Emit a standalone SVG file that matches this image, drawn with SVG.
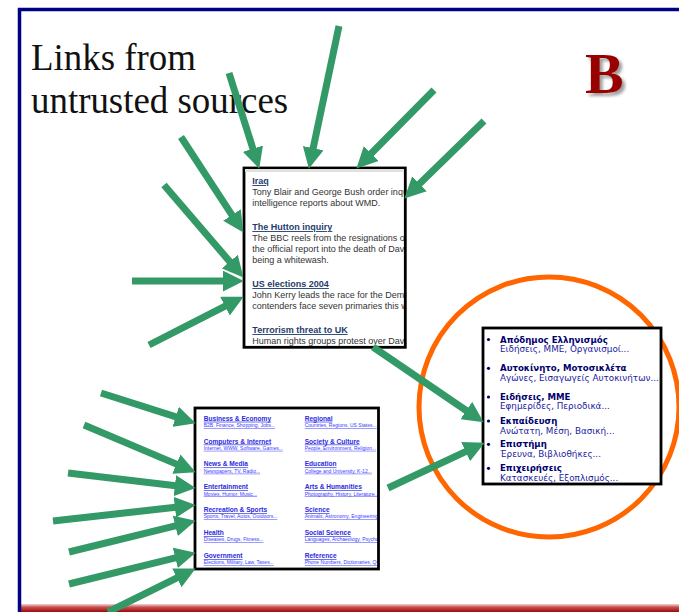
<svg xmlns="http://www.w3.org/2000/svg" width="679" height="612" viewBox="0 0 679 612">
  <style>
    .title { font-family: "Liberation Serif", "Times New Roman", serif; font-size: 36.9px; fill: #111; }
    .news-h { font-family: "Liberation Sans", Arial, sans-serif; font-size: 9px; font-weight: bold; fill: #1f3c6e; text-decoration: underline; }
    .news-b { font-family: "Liberation Sans", Arial, sans-serif; font-size: 9px; fill: #333; }
    .dir-h { font-family: "Liberation Sans", Arial, sans-serif; font-size: 6.6px; font-weight: bold; fill: #2a2ae0; text-decoration: underline; }
    .dir-s { font-family: "Liberation Sans", Arial, sans-serif; font-size: 5px; fill: #3a3aff; text-decoration: underline; }
    .gr-h { font-family: "DejaVu Sans", Verdana, sans-serif; font-size: 8.6px; font-weight: bold; fill: #00006e; }
    .gr-s { font-family: "DejaVu Sans", Verdana, sans-serif; font-size: 8.8px; fill: #1c1ca0; }
    .box { fill: #fff; stroke: #000; stroke-width: 2.8; }
    .arrow { stroke: #339966; stroke-width: 7; fill: none; marker-end: url(#head); }
  </style>
  <defs>
    <marker id="head" markerUnits="userSpaceOnUse" viewBox="0 0 20 20" markerWidth="21" markerHeight="21" refX="5" refY="10" orient="auto">
      <path d="M0,0 L20,10 L0,20 z" fill="#339966"/>
    </marker>
    <filter id="shadow" x="-20%" y="-20%" width="150%" height="150%">
      <feDropShadow dx="3" dy="3" stdDeviation="1.5" flood-color="#777" flood-opacity="0.7"/>
    </filter>
    <linearGradient id="band" x1="0" y1="0" x2="0" y2="1">
      <stop offset="0" stop-color="#f4d6d6"/>
      <stop offset="0.4" stop-color="#c85050"/>
      <stop offset="1" stop-color="#9a0a0a"/>
    </linearGradient>
    <clipPath id="clipNews"><rect x="245" y="169" width="159" height="177"/></clipPath>
    <clipPath id="clipDir"><rect x="196" y="409" width="181" height="159"/></clipPath>
    <clipPath id="clipGr"><rect x="484" y="329" width="176" height="154"/></clipPath>
  </defs>

  <rect width="679" height="612" fill="#fff"/>

  <!-- bottom band -->
  <rect x="21" y="604" width="658" height="8" fill="url(#band)"/>

  <!-- slide frame -->
  <path d="M19.5,612 V9.5 H679" fill="none" stroke="#000080" stroke-width="3.5"/>

  <!-- heading -->
  <g id="heading">
    <text class="title" x="31" y="70">Links from</text>
    <text class="title" x="31" y="113">untrusted sources</text>
  </g>
  <g id="label-b">
    <text x="585" y="93" font-family="Liberation Serif, Times New Roman, serif" font-size="58" font-weight="bold" fill="#990000" filter="url(#shadow)">B</text>
  </g>

  <!-- news page -->
  <g id="news-page">
    <rect class="box" x="244" y="168" width="161.3" height="179.3"/>
    <g clip-path="url(#clipNews)">
      <rect x="245" y="169" width="159" height="3" fill="#e0e0dc"/>
      <text class="news-h" x="252.3" y="184">Iraq</text>
      <text class="news-b" x="252.3" y="194.5">Tony Blair and George Bush order inquiry into</text>
      <text class="news-b" x="252.3" y="205.8">intelligence reports about WMD.</text>
      <text class="news-h" x="252.3" y="230">The Hutton inquiry</text>
      <text class="news-b" x="252.3" y="240.5">The BBC reels from the resignations of its chiefs</text>
      <text class="news-b" x="252.3" y="251.5">the official report into the death of David Kelly</text>
      <text class="news-b" x="252.3" y="262.8">being a whitewash.</text>
      <text class="news-h" x="252.3" y="287">US elections 2004</text>
      <text class="news-b" x="252.3" y="297.8">John Kerry leads the race for the Democratic</text>
      <text class="news-b" x="252.3" y="309">contenders face seven primaries this week</text>
      <text class="news-h" x="252.3" y="333">Terrorism threat to UK</text>
      <text class="news-b" x="252.3" y="344.3">Human rights groups protest over David Blunkett</text>
    </g>
  </g>

  <!-- directory page -->
  <g id="directory-page">
    <rect class="box" x="195" y="408" width="183.5" height="161"/>
    <g clip-path="url(#clipDir)">
      <text class="dir-h" x="203.7" y="420.7">Business &amp; Economy</text>
      <text class="dir-s" x="203.7" y="427">B2B, Finance, Shopping, Jobs...</text>
      <text class="dir-h" x="203.7" y="443.5">Computers &amp; Internet</text>
      <text class="dir-s" x="203.7" y="449.8">Internet, WWW, Software, Games...</text>
      <text class="dir-h" x="203.7" y="466.4">News &amp; Media</text>
      <text class="dir-s" x="203.7" y="472.7">Newspapers, TV, Radio...</text>
      <text class="dir-h" x="203.7" y="489.3">Entertainment</text>
      <text class="dir-s" x="203.7" y="495.5">Movies, Humor, Music...</text>
      <text class="dir-h" x="203.7" y="512.2">Recreation &amp; Sports</text>
      <text class="dir-s" x="203.7" y="518.4">Sports, Travel, Autos, Outdoors...</text>
      <text class="dir-h" x="203.7" y="535.1">Health</text>
      <text class="dir-s" x="203.7" y="541.4">Diseases, Drugs, Fitness...</text>
      <text class="dir-h" x="203.7" y="558">Government</text>
      <text class="dir-s" x="203.7" y="564.2">Elections, Military, Law, Taxes...</text>

      <text class="dir-h" x="304.7" y="420.7">Regional</text>
      <text class="dir-s" x="304.7" y="427">Countries, Regions, US States...</text>
      <text class="dir-h" x="304.7" y="443.5">Society &amp; Culture</text>
      <text class="dir-s" x="304.7" y="449.8">People, Environment, Religion...</text>
      <text class="dir-h" x="304.7" y="466.4">Education</text>
      <text class="dir-s" x="304.7" y="472.7">College and University, K-12...</text>
      <text class="dir-h" x="304.7" y="489.3">Arts &amp; Humanities</text>
      <text class="dir-s" x="304.7" y="495.5">Photography, History, Literature...</text>
      <text class="dir-h" x="304.7" y="512.2">Science</text>
      <text class="dir-s" x="304.7" y="518.4">Animals, Astronomy, Engineering...</text>
      <text class="dir-h" x="304.7" y="535.1">Social Science</text>
      <text class="dir-s" x="304.7" y="541.4">Languages, Archaeology, Psychology...</text>
      <text class="dir-h" x="304.7" y="558">Reference</text>
      <text class="dir-s" x="304.7" y="564.2">Phone Numbers, Dictionaries, Quotations...</text>
    </g>
  </g>

  <!-- highlight ring -->
  <g id="ring">
    <circle cx="549" cy="407" r="130" fill="none" stroke="#ff6600" stroke-width="5"/>
  </g>

  <!-- greek directory page -->
  <g id="greek-page">
    <rect class="box" x="483" y="328" width="178" height="156"/>
    <g clip-path="url(#clipGr)" fill="#00006e">
      <circle cx="488.5" cy="339.5" r="1.6"/>
      <text class="gr-h" x="500" y="342.7">Απόδημος Ελληνισμός</text>
      <text class="gr-s" x="500" y="352.2">Ειδήσεις, ΜΜΕ, Οργανισμοί...</text>
      <circle cx="488.5" cy="368.3" r="1.6"/>
      <text class="gr-h" x="500" y="371.4">Αυτοκίνητο, Μοτοσικλέτα</text>
      <text class="gr-s" x="500" y="380.8">Αγώνες, Εισαγωγείς Αυτοκινήτων...</text>
      <circle cx="488.5" cy="397" r="1.6"/>
      <text class="gr-h" x="500" y="400">Ειδήσεις, ΜΜΕ</text>
      <text class="gr-s" x="500" y="409.4">Εφημερίδες, Περιοδικά...</text>
      <circle cx="488.5" cy="421" r="1.6"/>
      <text class="gr-h" x="500" y="424">Εκπαίδευση</text>
      <text class="gr-s" x="500" y="433.7">Ανώτατη, Μέση, Βασική...</text>
      <circle cx="488.5" cy="444.3" r="1.6"/>
      <text class="gr-h" x="500" y="447.3">Επιστήμη</text>
      <text class="gr-s" x="500" y="457.3">Έρευνα, Βιβλιοθήκες...</text>
      <circle cx="488.5" cy="468.3" r="1.6"/>
      <text class="gr-h" x="500" y="471.3">Επιχειρήσεις</text>
      <text class="gr-s" x="500" y="480.8">Κατασκευές, Εξοπλισμός...</text>
    </g>
  </g>

  <!-- link arrows -->
  <g id="connectors">
    <line class="arrow" x1="229" y1="73" x2="254.5" y2="153.7"/>
    <line class="arrow" x1="339" y1="26" x2="312.1" y2="153.3"/>
    <line class="arrow" x1="434" y1="90" x2="367.5" y2="157.3"/>
    <line class="arrow" x1="484" y1="121" x2="415.7" y2="187.5"/>
    <line class="arrow" x1="181" y1="137" x2="234.8" y2="219.4"/>
    <line class="arrow" x1="164" y1="185" x2="233.2" y2="265.6"/>
    <line class="arrow" x1="132" y1="281" x2="228" y2="281"/>
    <line class="arrow" x1="149" y1="345" x2="229.6" y2="303.8"/>
    <line class="arrow" x1="373" y1="347" x2="470.6" y2="413.5"/>
    <line class="arrow" x1="388" y1="488" x2="470.4" y2="449.4"/>
    <line class="arrow" x1="101" y1="393" x2="180.7" y2="418.4"/>
    <line class="arrow" x1="84" y1="425" x2="181.2" y2="466.1"/>
    <line class="arrow" x1="68" y1="473" x2="180.1" y2="486.2"/>
    <line class="arrow" x1="53" y1="521" x2="180.1" y2="506.7"/>
    <line class="arrow" x1="69" y1="552" x2="180.4" y2="524.6"/>
    <line class="arrow" x1="69" y1="584" x2="180.4" y2="556.6"/>
    <line class="arrow" x1="108" y1="612" x2="181.5" y2="575.6"/>
  </g>
</svg>
